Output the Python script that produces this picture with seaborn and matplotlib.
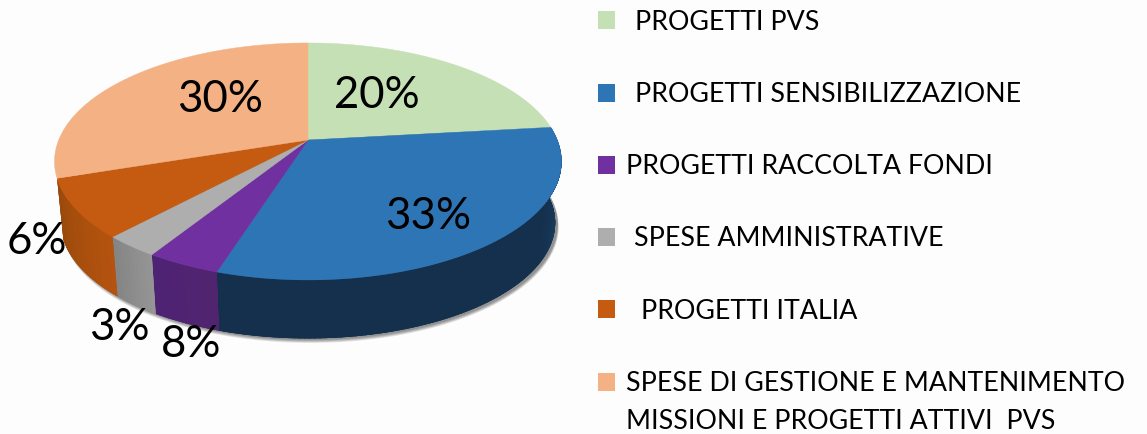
import numpy as np
import matplotlib
matplotlib.use("Agg")
import matplotlib.pyplot as plt
import seaborn as sns

# Data
categories = ["PROGETTI PVS", "PROGETTI SENSIBILIZZAZIONE", "PROGETTI RACCOLTA FONDI",
              "SPESE AMMINISTRATIVE", "PROGETTI ITALIA",
              "SPESE DI GESTIONE E MANTENIMENTO\nMISSIONI E PROGETTI ATTIVI  PVS"]
# slice sizes as drawn in the picture (they differ a little from the printed labels)
drawn_shares = [23.2, 31.7, 4.0, 3.0, 8.0, 30.1]
printed_labels = ["20%", "33%", "8%", "3%", "6%", "30%"]
top_colors = ["#c5e0b4", "#2e75b6", "#7030a0", "#aeaeae", "#c55a11", "#f4b183"]
# green and light orange have no visible wall
side_colors = [None, ["#1f4e79", "#14304d", "#14304d", "#14304d"],
               ["#51246f", "#4f2374"], ["#959595", "#858585"],
               ["#b5530f", "#9a4a0c"], None]

sns.set_theme(style="white")
plt.rcParams['font.family'] = ['Lato', 'DejaVu Sans']
bg = "#fdfdfd"

fig = plt.figure(figsize=(11.47, 4.35), dpi=100, facecolor=bg)
ax = fig.add_axes([0, 0, 1, 1], facecolor=bg)
ax.set_xlim(0, 1147)
ax.set_ylim(435, 0)
ax.axis("off")

# Perspective of the pie: apex sits above the middle of the ellipse
cx, apex_y = 308, 141
rx, ry, k = 249.3, 114.6, 0.181
depth_y, depth_scale = 62, 0.975


def project(theta, scale=1.0, dy=0.0):
    u, v = np.cos(theta), np.sin(theta)
    d = 1 + k * v
    return cx + scale * rx * u / d, apex_y + dy - scale * ry * v / d


# Soft shadow under the pie
t = np.linspace(0, 2 * np.pi, 400)
for i in range(5):
    sx, sy = project(t, depth_scale + 0.001 * i, depth_y + 0.6 * i)
    ax.fill(sx + 2.5, sy + 1.5, color="black", alpha=0.10, lw=0, zorder=1)

edges = np.radians(90 - np.cumsum([0] + drawn_shares) * 3.6)

# Side wall, in thin strips for the gradient, clipped to the slice's whole wall
for i in range(len(drawn_shares)):
    if side_colors[i] is None:
        continue
    n = max(int((edges[i] - edges[i + 1]) / np.radians(1.0)), 2)
    th = np.linspace(edges[i + 1], edges[i], n + 1)[::-1]
    pal = sns.blend_palette(side_colors[i], n)
    x1, y1 = project(th)
    x2, y2 = project(th, depth_scale, depth_y)
    base = ax.fill(np.r_[x1, x2[::-1]], np.r_[y1, y2[::-1]], facecolor=pal[n // 2], lw=0, zorder=2)[0]
    for j in range(n):
        a = th[j:j + 2]
        xa, ya = project(a)
        xb, yb = project(a, depth_scale, depth_y)
        strip = ax.fill(np.r_[xa, xb[::-1]], np.r_[ya, yb[::-1]], facecolor=pal[j], edgecolor=pal[j],
                        lw=1.5, zorder=2)[0]
        strip.set_clip_path(base)

# Top face
for i in range(len(drawn_shares)):
    th = np.linspace(edges[i], edges[i + 1], 120)
    x, y = project(th)
    ax.fill(np.r_[cx, x], np.r_[apex_y, y], facecolor=top_colors[i], edgecolor=top_colors[i],
            lw=0.3, zorder=3)

# Percent labels
label_xy = [(377, 96), (428, 217), (191, 345), (119, 328), (37, 242), (220, 100)]
for txt, (lx, ly) in zip(printed_labels, label_xy):
    ax.text(lx, ly, txt, fontsize=31.5, color="black", ha="center", va="center", zorder=5)

# Legend, written by hand because the entries are not evenly indented
square_y = [12, 85, 157, 229, 301, 374]
text_x = [635, 635, 626, 634, 641, 626]
text_y = [23, 95, 167, 239, 312, 384]
for i, cat in enumerate(categories):
    ax.add_patch(plt.Rectangle((598, square_y[i]), 16.5, 18, facecolor=top_colors[i], lw=0, zorder=5))
    for m, line in enumerate(cat.split("\n")):
        ax.text(text_x[i], text_y[i] + m * 38, line, fontsize=19.3, color="black",
                ha="left", va="center", zorder=5)

fig.savefig("out.png", dpi=100, facecolor=bg)
